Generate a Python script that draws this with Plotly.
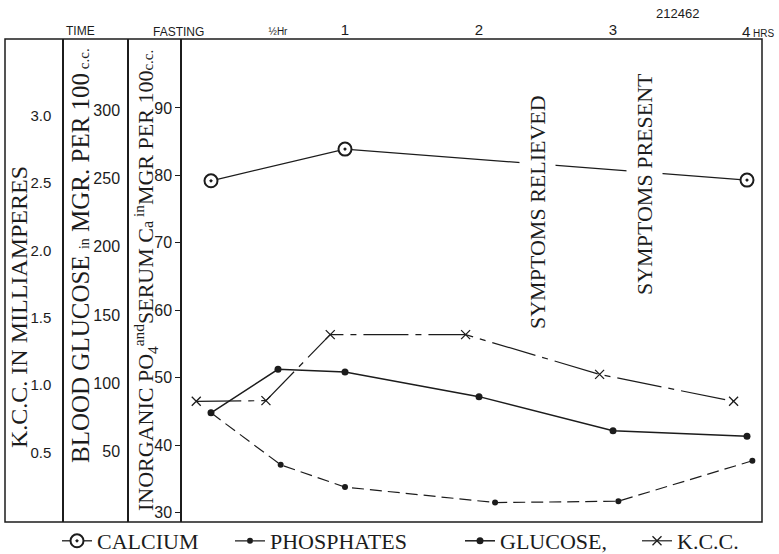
import plotly.graph_objects as go

# ---------------- data ----------------
time_ca = [0, 1, 4]
calcium = [79.2, 83.9, 79.3]                      # serum Ca, mg per 100 cc (right-hand scale)

time_po4 = [0, 0.52, 1.0, 2.12, 3.04, 4.04]
phosphates = [44.8, 37.1, 33.8, 31.5, 31.7, 37.7]  # inorganic PO4, mg per 100 cc

time_glu = [0, 0.5, 1, 2, 3, 4]
glucose = [78.6, 110.4, 108.4, 90.4, 65.5, 61.4]   # blood glucose, mg per 100 cc

time_kcc = [-0.11, 0.41, 0.89, 1.9, 2.9, 3.9]
kcc = [0.88, 0.885, 1.375, 1.375, 1.08, 0.88]      # K.C.C. in milliamperes

ca_ticks = [30, 40, 50, 60, 70, 80, 90]
glu_ticks = [50, 100, 150, 200, 250, 300]
kcc_ticks = [0.5, 1.0, 1.5, 2.0, 2.5, 3.0]
time_ticks = [0.5, 1, 2, 3]
time_labels = ['<span style="font-size:10px">½Hr</span>', "1", "2", "3"]

# ---------------- layout helpers ----------------
W, H = 779, 554
L, R, T, B = 5, 17, 39, 32
PW, PH = W - L - R, H - T - B


def px(x):
    return (x - L) / PW


def py(y):
    return (H - B - y) / PH


INK = "#1c1c1c"
SERIF = "Liberation Serif"
SANS = "Liberation Sans"

fig = go.Figure()

fig.add_trace(go.Scatter(
    x=time_ca, y=calcium, name="CALCIUM", yaxis="y", legend="legend",
    mode="lines+markers",
    line=dict(color=INK, width=1.3),
    marker=dict(symbol="circle-dot", size=13, color="white",
                line=dict(color=INK, width=2)),
))
fig.add_trace(go.Scatter(
    x=time_po4, y=phosphates, name="PHOSPHATES", yaxis="y", legend="legend2",
    mode="lines+markers",
    line=dict(color=INK, width=1.2, dash="12px,6px"),
    marker=dict(symbol="circle", size=6, color=INK),
))
fig.add_trace(go.Scatter(
    x=time_glu, y=glucose, name="GLUCOSE,", yaxis="y2", legend="legend3",
    mode="lines+markers",
    line=dict(color=INK, width=1.5),
    marker=dict(symbol="circle", size=7, color=INK),
))
fig.add_trace(go.Scatter(
    x=time_kcc, y=kcc, name="K.C.C.", yaxis="y3", legend="legend4",
    mode="lines+markers",
    line=dict(color=INK, width=1.2, dash="45px,7px,6px,7px"),
    marker=dict(symbol="x-thin", size=9, color=INK,
                line=dict(color=INK, width=1.3)),
))

axis_common = dict(showgrid=False, zeroline=False, color=INK,
                   linecolor=INK, linewidth=1.5, automargin=False)


def legend_at(xpix):
    return dict(orientation="h", x=px(xpix), xanchor="left",
                y=py(541), yanchor="middle",
                font=dict(size=22, family=SERIF, color=INK),
                bgcolor="rgba(0,0,0,0)", itemwidth=30)


fig.update_layout(
    width=W, height=H,
    margin=dict(l=L, r=R, t=T, b=B, autoexpand=False),
    paper_bgcolor="white", plot_bgcolor="white",
    font=dict(family=SANS, color=INK),
    xaxis=dict(domain=[px(182), 1], range=[(182 - 211) / 134, (762 - 211) / 134],
               side="top", tickvals=time_ticks, ticktext=time_labels,
               ticks="", showline=False, showgrid=False, zeroline=False,
               automargin=False, ticklabelstandoff=0,
               tickfont=dict(size=15, family=SANS, color=INK)),
    yaxis=dict(range=[28.62, 100.22], tickvals=ca_ticks, ticks="outside",
               ticklen=5, tickwidth=1, tickcolor=INK, showline=True,
               tickfont=dict(size=16, family=SANS), **axis_common),
    yaxis2=dict(range=[-1.3, 352.0], tickvals=glu_ticks, overlaying="y",
                anchor="free", position=px(128), ticks="", showline=True,
                ticklabelstandoff=4,
                tickfont=dict(size=16, family=SANS), **axis_common),
    yaxis3=dict(range=[-0.016, 3.57], tickvals=kcc_ticks, tickformat=".1f",
                overlaying="y", anchor="free", position=px(63), ticks="",
                showline=True, ticklabelstandoff=8,
                tickfont=dict(size=15, family=SANS), **axis_common),
    showlegend=True,
    legend=legend_at(57),
    legend2=legend_at(230),
    legend3=legend_at(460),
    legend4=legend_at(637),
)

# outer frame
fig.add_shape(type="rect", xref="paper", yref="paper", x0=0, y0=0, x1=1, y1=1,
              line=dict(color=INK, width=1.5), layer="above")

C = dict(xanchor="center", yanchor="middle", showarrow=False)
ann = []
# vertical axis titles
ann.append(dict(x=px(19), y=py(307), xref="paper", yref="paper", textangle=-90,
                text="K.C.C. IN MILLIAMPERES",
                font=dict(size=24, family=SERIF, color=INK), **C))
ann.append(dict(x=px(80), y=py(256), xref="paper", yref="paper", textangle=-90,
                text='BLOOD GLUCOSE <span style="font-size:14px">in</span> MGR. PER 100'
                     '<span style="font-size:15px"> c.c.</span>',
                font=dict(size=25, family=SERIF, color=INK), **C))
ann.append(dict(x=px(145), y=py(281), xref="paper", yref="paper", textangle=-90,
                text='INORGANIC PO<sub>4</sub><sup>and</sup>SERUM C'
                     '<span style="font-size:16px">a</span><sup> in</sup>MGR PER 100'
                     '<span style="font-size:15px">c.c.</span>',
                font=dict(size=22, family=SERIF, color=INK), **C))
# symptom notes (white box breaks the calcium line like the original)
ann.append(dict(x=(537 - 211) / 134, y=py(212), xref="x", yref="paper", textangle=-90,
                text="SYMPTOMS RELIEVED", bgcolor="white", borderpad=5,
                font=dict(size=22, family=SERIF, color=INK), **C))
ann.append(dict(x=(644 - 211) / 134, y=py(184), xref="x", yref="paper", textangle=-90,
                text="SYMPTOMS PRESENT", bgcolor="white", borderpad=5,
                font=dict(size=22, family=SERIF, color=INK), **C))
# top labels
ann.append(dict(x=px(80), y=py(31), xref="paper", yref="paper", text="TIME",
                font=dict(size=12, family=SANS, color=INK), **C))
ann.append(dict(x=px(206), y=py(32), xref="paper", yref="paper", text="FASTING",
                xanchor="right", yanchor="middle", showarrow=False,
                font=dict(size=12, family=SANS, color=INK)))
ann.append(dict(x=px(740), y=py(32), xref="paper", yref="paper",
                text='4<span style="font-size:10px"> HRS</span>', xanchor="left",
                yanchor="middle", showarrow=False,
                font=dict(size=15, family=SANS, color=INK)))
ann.append(dict(x=px(677), y=py(13), xref="paper", yref="paper", text="212462",
                font=dict(size=13, family=SANS, color=INK), **C))
fig.update_layout(annotations=ann)

fig.write_html("out.html", config={"displayModeBar": False},
               post_script="document.body.style.margin='0';document.body.style.padding='0';")
